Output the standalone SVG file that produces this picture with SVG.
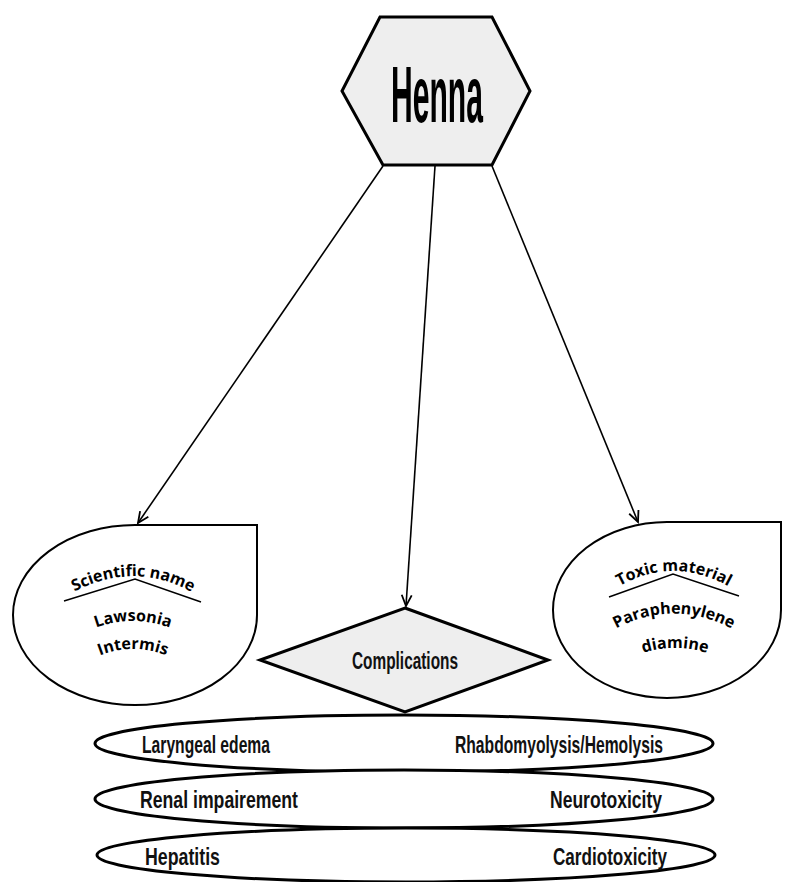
<svg xmlns="http://www.w3.org/2000/svg" width="789" height="882" viewBox="0 0 789 882">
<style>
.grey{fill:#eeeeee;stroke:#000;stroke-width:3;stroke-linejoin:miter}
.drop{fill:#fff;stroke:#000;stroke-width:2}
.oval{fill:#fff;stroke:#000;stroke-width:3}
.conn{fill:none;stroke:#000;stroke-width:1.6}
.wa{font-family:"Open Sans","Liberation Sans",sans-serif;font-weight:bold;font-size:16px;fill:#000}
.lbl{font-family:"Liberation Sans","DejaVu Sans",sans-serif;font-size:24px;fill:#111;font-weight:bold}
.ul{fill:none;stroke:#000;stroke-width:1.5}
</style>
<defs>
<marker id="arr" markerWidth="14" markerHeight="14" refX="12" refY="6" orient="auto" markerUnits="userSpaceOnUse">
<path d="M1,1 L12,6 L1,11" fill="none" stroke="#000" stroke-width="1.8"/>
</marker>
<path id="p-sci" d="M63,598 Q135,554 203,599"/>
<path id="p-law" d="M88,631 Q133,611 178,631"/>
<path id="p-int" d="M94,658 Q133,640 172,658"/>
<path id="p-tox" d="M607,594 Q673,548 741,594"/>
<path id="p-para" d="M602,637 Q673,590 746,637"/>
<path id="p-dia" d="M634,656 Q675,640 716,656"/>
</defs>

<g id="connectors">
<line class="conn" x1="383" y1="166" x2="138" y2="523" marker-end="url(#arr)"/>
<line class="conn" x1="435" y1="166" x2="406" y2="606" marker-end="url(#arr)"/>
<line class="conn" x1="492" y1="166" x2="638" y2="522" marker-end="url(#arr)"/>
</g>

<g id="henna">
<polygon class="grey" points="380,17 492,17 530,91 492,165 383,165 342,91"/>
<text x="437" y="122" text-anchor="middle" font-family="'Liberation Sans',sans-serif" font-weight="bold" font-size="80" textLength="92" lengthAdjust="spacingAndGlyphs">Henna</text>
</g>

<g id="scientific">
<path class="drop" d="M257,615 A122 90 0 1 1 135,525 L257,525 Z"/>
<text class="wa"><textPath href="#p-sci" startOffset="50%" text-anchor="middle">Scientific name</textPath></text>
<polyline class="ul" points="64,601 135,579 201,602"/>
<text class="wa"><textPath href="#p-law" startOffset="50%" text-anchor="middle">Lawsonia</textPath></text>
<text class="wa"><textPath href="#p-int" startOffset="50%" text-anchor="middle">Intermis</textPath></text>
</g>

<g id="toxic">
<path class="drop" d="M781,610 A114 88 0 1 1 667,522 L781,522 Z"/>
<text class="wa"><textPath href="#p-tox" startOffset="50%" text-anchor="middle">Toxic material</textPath></text>
<polyline class="ul" points="609,597 673,574 739,596"/>
<text class="wa"><textPath href="#p-para" startOffset="50%" text-anchor="middle">Paraphenylene</textPath></text>
<text class="wa"><textPath href="#p-dia" startOffset="50%" text-anchor="middle">diamine</textPath></text>
</g>

<g id="complications">
<polygon class="grey" points="405,608 548,660 405,712 260,660"/>
<text x="405" y="669" text-anchor="middle" font-family="'Liberation Sans',sans-serif" font-weight="bold" font-size="23" fill="#111" textLength="106" lengthAdjust="spacingAndGlyphs">Complications</text>
</g>

<g id="row1">
<ellipse class="oval" cx="404" cy="743.5" rx="309" ry="28.5"/>
<text class="lbl" x="142" y="753" textLength="128" lengthAdjust="spacingAndGlyphs">Laryngeal edema</text>
<text class="lbl" x="455" y="753" textLength="208" lengthAdjust="spacingAndGlyphs">Rhabdomyolysis/Hemolysis</text>
</g>
<g id="row2">
<ellipse class="oval" cx="404" cy="799" rx="309" ry="29"/>
<text class="lbl" x="140" y="808" textLength="158" lengthAdjust="spacingAndGlyphs">Renal impairement</text>
<text class="lbl" x="550" y="808" textLength="112" lengthAdjust="spacingAndGlyphs">Neurotoxicity</text>
</g>
<g id="row3">
<ellipse class="oval" cx="406" cy="855" rx="309" ry="27"/>
<text class="lbl" x="145" y="865" textLength="75" lengthAdjust="spacingAndGlyphs">Hepatitis</text>
<text class="lbl" x="553" y="865" textLength="114" lengthAdjust="spacingAndGlyphs">Cardiotoxicity</text>
</g>
</svg>
